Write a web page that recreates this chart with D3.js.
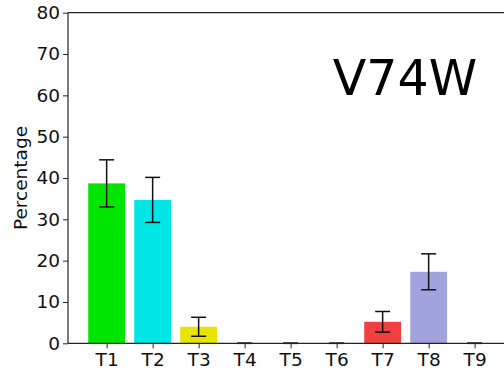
<!DOCTYPE html>
<html>
<head>
<meta charset="utf-8">
<script src="https://cdn.jsdelivr.net/npm/d3@7"></script>
<style>
  html, body { margin: 0; padding: 0; background: #fff; }
  svg { display: block; font-family: "DejaVu Sans", sans-serif; }
</style>
</head>
<body>
<svg id="chart" width="504" height="375"></svg>
<script>
// Treatment groups and their mean percentages with error (±)
const categories = ["T1", "T2", "T3", "T4", "T5", "T6", "T7", "T8", "T9"];
const values = [38.7, 34.7, 4.0, 0, 0, 0, 5.2, 17.3, 0];
const errors = [5.7, 5.45, 2.3, 0, 0, 0, 2.5, 4.35, 0];
const colors = ["#00e600", "#00e5e5", "#e5e500", "#e5e5e5", "#e5e5e5", "#e5e5e5", "#f24040", "#a2a2de", "#e5e5e5"];
const yTicks = [0, 10, 20, 30, 40, 50, 60, 70, 80];
const title = "V74W";
const yLabel = "Percentage";

const svg = d3.select("#chart");
const margin = { left: 68, top: 12.7, bottom: 343.3 };
const bandStep = 46;
const plotRight = margin.left + bandStep * 9.68;
const fontSize = "18.5px";

// Linear x in category index units, like a bar plot with 0.8-wide bars
const x = d3.scaleLinear()
  .domain([-0.84, 8.84])
  .range([margin.left, plotRight]);
const y = d3.scaleLinear()
  .domain([0, 80])
  .range([margin.bottom, margin.top]);

const barW = 0.8;

// Bars
svg.append("g").selectAll("rect")
  .data(values)
  .join("rect")
  .attr("x", (d, i) => x(i - barW / 2))
  .attr("width", (d, i) => x(i + barW / 2) - x(i - barW / 2))
  .attr("y", d => y(d))
  .attr("height", d => y(0) - y(d))
  .attr("fill", (d, i) => colors[i]);

// Error bars
const cap = 7.5;
const eg = svg.append("g").attr("stroke", "#111").attr("stroke-width", 1.5);
values.forEach((v, i) => {
  const cx = x(i);
  const lo = y(v - errors[i]);
  const hi = y(v + errors[i]);
  eg.append("line").attr("x1", cx).attr("x2", cx).attr("y1", lo).attr("y2", hi);
  eg.append("line").attr("x1", cx - cap).attr("x2", cx + cap).attr("y1", lo).attr("y2", lo);
  eg.append("line").attr("x1", cx - cap).attr("x2", cx + cap).attr("y1", hi).attr("y2", hi);
});

// Axes
const xAxis = d3.axisBottom(x)
  .tickValues(d3.range(categories.length))
  .tickFormat(i => categories[i])
  .tickSize(5).tickPadding(5);
const yAxis = d3.axisLeft(y)
  .tickValues(yTicks)
  .tickSize(5).tickPadding(3);

const gx = svg.append("g")
  .attr("transform", `translate(0,${margin.bottom})`)
  .call(xAxis);
const gy = svg.append("g")
  .attr("transform", `translate(${margin.left},0)`)
  .call(yAxis);

[gx, gy].forEach(g => {
  g.attr("font-size", null).attr("font-family", null);
  g.selectAll("path.domain").remove();
  g.selectAll("line").attr("stroke", "#222").attr("stroke-width", 1);
  g.selectAll("text")
    .attr("fill", "#111")
    .attr("font-size", fontSize)
    .attr("font-family", "DejaVu Sans, sans-serif");
});

// Spines
const spines = svg.append("g").attr("stroke", "#222").attr("stroke-width", 1.2).attr("fill", "none");
spines.append("line").attr("x1", margin.left).attr("x2", margin.left).attr("y1", margin.top).attr("y2", margin.bottom);
spines.append("line").attr("x1", margin.left).attr("x2", plotRight).attr("y1", margin.bottom).attr("y2", margin.bottom);
spines.append("line").attr("x1", margin.left).attr("x2", plotRight).attr("y1", margin.top).attr("y2", margin.top);

// Y label
svg.append("text")
  .attr("transform", `translate(27,${(margin.top + margin.bottom) / 2}) rotate(-90)`)
  .attr("text-anchor", "middle")
  .attr("fill", "#111")
  .attr("font-size", fontSize)
  .text(yLabel);

// Title inside plot
svg.append("text")
  .attr("x", 405)
  .attr("y", 95)
  .attr("text-anchor", "middle")
  .attr("fill", "#000")
  .attr("font-size", "49px")
  .text(title);
</script>
</body>
</html>
